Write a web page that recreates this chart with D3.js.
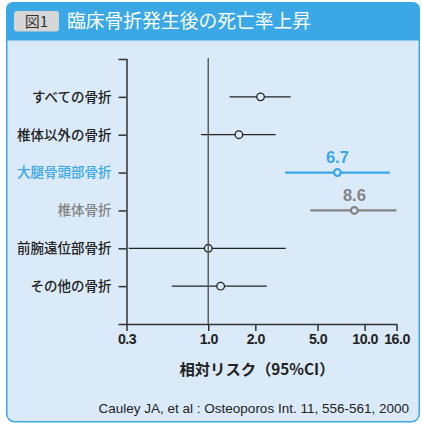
<!DOCTYPE html>
<html lang="ja">
<head>
<meta charset="utf-8">
<script src="https://cdn.jsdelivr.net/npm/d3@7"></script>
<style>
  html, body { margin: 0; padding: 0; background: #ffffff; }
  svg { display: block; }
</style>
</head>
<body>
<svg id="chart" width="422" height="428"></svg>
<script>
// Fracture types (top to bottom)
const categories = ["すべての骨折", "椎体以外の骨折", "大腿骨頭部骨折", "椎体骨折", "前腕遠位部骨折", "その他の骨折"];
// Relative risk of death and its 95% confidence interval
const riskEstimate = [2.16, 1.57, 6.7, 8.6, 1.0, 1.2];
const ciLower      = [1.37, 0.90, 3.1, 4.5, 0.31, 0.585];
const ciUpper      = [3.37, 2.70, 14.5, 16.0, 3.13, 2.37];
// Rows whose estimate is printed above the point
const labelledRows = ["大腿骨頭部骨折", "椎体骨折"];
// x-axis tick values
const xTicks = [0.3, 1.0, 2.0, 5.0, 10.0, 16.0];

const title = "臨床骨折発生後の死亡率上昇";
const figLabel = "図1";
const xTitle = "相対リスク（95%CI）";
const source = "Cauley JA, et al : Osteoporos Int. 11, 556-561, 2000";

// styling
const BLUE = "#3aa7e6";
const PANEL = "#dbeaf8";
const GRAY = "#838383";
const INK = "#222222";
const rowColor = { "大腿骨頭部骨折": BLUE, "椎体骨折": GRAY };
const colorOf = c => rowColor[c] || INK;
const emphasised = c => c in rowColor;
const JP = "'Noto Sans CJK JP', 'Noto Sans', sans-serif";
const LATIN = "'Liberation Sans', Arial, sans-serif";

const svg = d3.select("#chart");

// frame: light panel with blue border, blue header band
svg.append("rect")
  .attr("x", 6.75).attr("y", 2.75).attr("width", 412.5).attr("height", 419)
  .attr("rx", 8).attr("ry", 8)
  .attr("fill", PANEL).attr("stroke", BLUE).attr("stroke-width", 1.5);

const hx0 = 6, hx1 = 420, hy0 = 2, hy1 = 40.5, r = 8;
svg.append("path")
  .attr("d", `M${hx0},${hy1} L${hx0},${hy0 + r} Q${hx0},${hy0} ${hx0 + r},${hy0} L${hx1 - r},${hy0} Q${hx1},${hy0} ${hx1},${hy0 + r} L${hx1},${hy1} Z`)
  .attr("fill", BLUE);

svg.append("rect")
  .attr("x", 14).attr("y", 11).attr("width", 45).attr("height", 20.5)
  .attr("rx", 3).attr("fill", "#d6d6d6");
svg.append("text")
  .attr("x", 36.5).attr("y", 21.5).attr("dy", "0.35em")
  .attr("text-anchor", "middle")
  .attr("font-family", JP).attr("font-size", 15).attr("fill", "#333")
  .text(figLabel);
svg.append("text")
  .attr("x", 67).attr("y", 21.5).attr("dy", "0.35em")
  .attr("font-family", JP).attr("font-size", 18.8).attr("fill", "#ffffff")
  .text(title);

// scales
const x = d3.scaleLog().domain([0.3, 16]).range([126.5, 396.5]);
const y = d3.scalePoint().domain(categories).range([59, 324]).padding(1);

// y axis
const yAxis = svg.append("g")
  .attr("transform", `translate(${x.range()[0]},0)`)
  .call(d3.axisLeft(y).tickSize(8).tickSizeOuter(8).tickPadding(7));
yAxis.select(".domain").attr("stroke", "#333").attr("stroke-width", 1.5);
yAxis.selectAll(".tick line").attr("stroke", "#333").attr("stroke-width", 1.5);
yAxis.selectAll(".tick text")
  .attr("font-family", JP).attr("font-size", 13.5).attr("font-weight", 500)
  .attr("fill", d => colorOf(d));

// x axis
const xAxis = svg.append("g")
  .attr("transform", `translate(0,${y.range()[1]})`)
  .call(d3.axisBottom(x).tickValues(xTicks).tickFormat(d3.format(".1f"))
    .tickSize(7).tickSizeOuter(0).tickPadding(3));
xAxis.select(".domain").attr("stroke", "#333").attr("stroke-width", 1.5);
xAxis.selectAll(".tick line").attr("stroke", "#333").attr("stroke-width", 1.5);
xAxis.selectAll(".tick text")
  .attr("font-family", LATIN).attr("font-size", 14.2).attr("font-weight", 700)
  .attr("letter-spacing", -0.5).attr("fill", INK);

// rows
const rows = categories.map((c, i) => ({ c, est: riskEstimate[i], lo: ciLower[i], hi: ciUpper[i] }));

svg.append("g").selectAll("line").data(rows).join("line")
  .attr("x1", d => x(d.lo)).attr("x2", d => x(d.hi))
  .attr("y1", d => y(d.c)).attr("y2", d => y(d.c))
  .attr("stroke", d => colorOf(d.c))
  .attr("stroke-width", d => emphasised(d.c) ? 2.2 : 1.3);

svg.append("g").selectAll("circle").data(rows).join("circle")
  .attr("cx", d => x(d.est)).attr("cy", d => y(d.c))
  .attr("r", d => emphasised(d.c) ? 3.4 : 3.8)
  .attr("fill", PANEL)
  .attr("stroke", d => colorOf(d.c))
  .attr("stroke-width", d => emphasised(d.c) ? 2.2 : 1.3);

// reference line at relative risk 1.0
svg.append("line")
  .attr("x1", x(1)).attr("x2", x(1))
  .attr("y1", 58).attr("y2", y.range()[1])
  .attr("stroke", "#555").attr("stroke-width", 1.4);

// printed estimates
svg.append("g").selectAll("text").data(rows.filter(d => labelledRows.includes(d.c))).join("text")
  .attr("x", d => x(d.est)).attr("y", d => y(d.c) - 15)
  .attr("dy", "0.35em")
  .attr("text-anchor", "middle")
  .attr("font-family", LATIN).attr("font-size", 16.5).attr("font-weight", 700)
  .attr("fill", d => colorOf(d.c))
  .text(d => d3.format(".1f")(d.est));

// axis title and source
svg.append("text")
  .attr("x", 257).attr("y", 370).attr("dy", "0.35em")
  .attr("text-anchor", "middle")
  .attr("font-family", JP).attr("font-size", 15.3).attr("font-weight", 700)
  .attr("fill", INK)
  .text(xTitle);
svg.append("text")
  .attr("x", 409).attr("y", 413)
  .attr("text-anchor", "end")
  .attr("font-family", LATIN).attr("font-size", 13.5)
  .attr("fill", INK)
  .text(source);
</script>
</body>
</html>
